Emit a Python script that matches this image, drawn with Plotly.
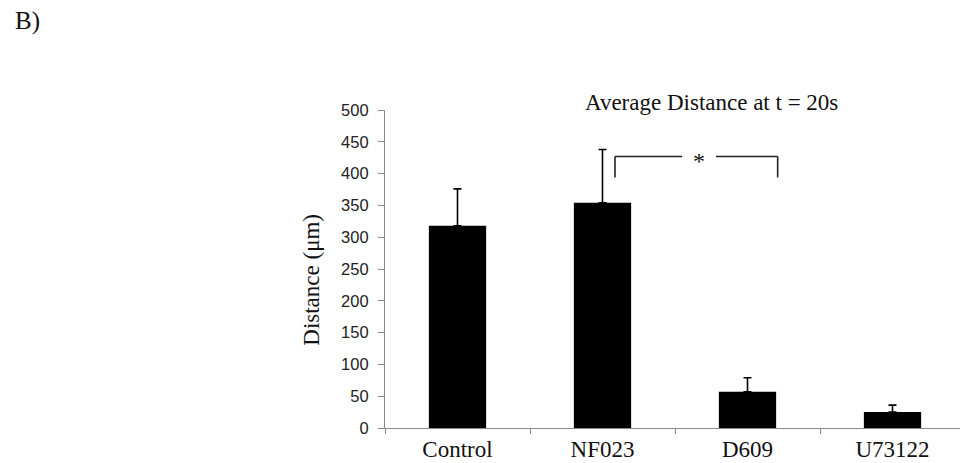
import plotly.graph_objects as go

categories = ["Control", "NF023", "D609", "U73122"]
means = [318, 354, 57, 25]
errors_plus = [58, 84, 22, 11]
y_ticks = [0, 50, 100, 150, 200, 250, 300, 350, 400, 450, 500]
sig_pair = ("NF023", "D609")
sig_level = 427
sig_drop = 33
sig_label = "*"

serif = "Liberation Serif, Times New Roman, serif"
sans = "Liberation Sans, Arial, sans-serif"
axis_gray = "#8a8a8a"

fig = go.Figure()
fig.add_trace(go.Bar(
    x=categories, y=means, width=0.395,
    marker=dict(color="black", line=dict(width=0)),
    error_y=dict(type="data", array=errors_plus, arrayminus=[0]*len(means),
                 symmetric=False, color="black", thickness=1.6, width=4),
    showlegend=False,
))

i0 = categories.index(sig_pair[0])
i1 = categories.index(sig_pair[1])
xl = i0 + 0.086
xr = i1 + 0.208
xs = i0 + 0.666
gap = 0.117
line_style = dict(color="#222222", width=1.6)
for (xa, ya, xb, yb) in [
    (xl, sig_level - sig_drop, xl, sig_level),
    (xl, sig_level, xs - gap, sig_level),
    (xs + gap, sig_level, xr, sig_level),
    (xr, sig_level, xr, sig_level - sig_drop),
]:
    fig.add_shape(type="line", xref="x", yref="y", x0=xa, y0=ya, x1=xb, y1=yb,
                  line=line_style)
fig.add_annotation(x=xs, y=sig_level, xref="x", yref="y", text=sig_label,
                   showarrow=False, xanchor="center", yanchor="middle",
                   font=dict(family=serif, size=24, color="#111111"),
                   yshift=-5)

W, H = 960, 463
L, R, T, B = 385, 0, 110, 34.5
pw, ph = W - L - R, H - T - B


def px_to_paper(px, py):
    return (px - L) / pw, (H - B - py) / ph


for text, px, py, size, angle in [
    ("Average Distance at t = 20s", 711, 102, 23, 0),
    ("Distance (μm)", 312, 280, 23, -90),
    ("B)", 27, 21, 25, 0),
]:
    ax, ay = px_to_paper(px, py)
    fig.add_annotation(x=ax, y=ay, xref="paper", yref="paper", text=text,
                       textangle=angle, showarrow=False,
                       xanchor="center", yanchor="middle",
                       font=dict(family=serif, size=size, color="#111111"))

fig.update_layout(
    width=W, height=H,
    margin=dict(l=L, r=R, t=T, b=B, pad=0),
    plot_bgcolor="white", paper_bgcolor="white",
    bargap=0.6,
    xaxis=dict(
        type="category", range=[-0.5, 3.5 - 5/145], tickson="boundaries",
        ticks="outside", ticklen=5, tickcolor=axis_gray, tickwidth=1,
        showline=True, linecolor=axis_gray, linewidth=1.2,
        showgrid=False, zeroline=False, automargin=False,
        tickfont=dict(family=serif, size=23, color="#111111"),
    ),
    yaxis=dict(
        range=[0, 500], tickvals=y_ticks, ticks="outside", ticklen=6,
        tickcolor=axis_gray, tickwidth=1,
        showline=True, linecolor=axis_gray, linewidth=1.2,
        showgrid=False, zeroline=False, automargin=False,
        ticklabelstandoff=6,
        tickfont=dict(family=sans, size=16.5, color="#222222"),
    ),
)

fig.write_html("out.html")
